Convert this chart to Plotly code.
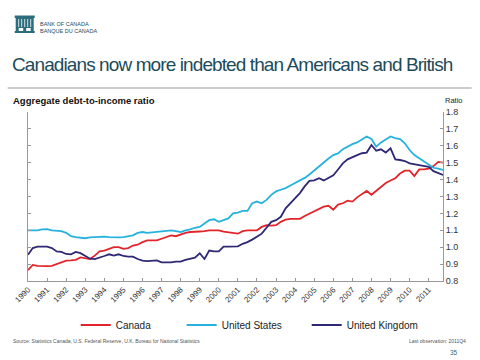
import plotly.graph_objects as go

years = [str(y) for y in range(1990, 2012)]
quarters = [f"{y}Q{q}" for y in range(1990, 2012) for q in range(1, 5)]

canada = [0.865, 0.895, 0.89, 0.888, 0.888, 0.89, 0.90, 0.91, 0.92, 0.922,
          0.925, 0.94, 0.935, 0.93, 0.95, 0.975, 0.98, 0.99, 1.0, 1.0,
          0.99, 0.995, 1.01, 1.015, 1.03, 1.04, 1.04, 1.04, 1.05, 1.06,
          1.07, 1.065, 1.075, 1.085, 1.09, 1.09, 1.093, 1.095, 1.10, 1.10,
          1.10, 1.092, 1.088, 1.088, 1.08, 1.095, 1.10, 1.10, 1.10, 1.12,
          1.13, 1.128, 1.13, 1.15, 1.163, 1.168, 1.17, 1.168, 1.185, 1.20,
          1.215, 1.228, 1.24, 1.245, 1.222, 1.252, 1.26, 1.275, 1.27, 1.295,
          1.315, 1.333, 1.31, 1.335, 1.36, 1.38, 1.395, 1.408, 1.437, 1.453,
          1.453, 1.421, 1.46, 1.46, 1.465, 1.48, 1.505, 1.50]

united_states = [1.10, 1.10, 1.10, 1.105, 1.107, 1.10, 1.097, 1.095, 1.085, 1.065,
                 1.06, 1.055, 1.053, 1.058, 1.06, 1.058, 1.062, 1.06, 1.058, 1.058,
                 1.06, 1.063, 1.07, 1.085, 1.09, 1.085, 1.088, 1.09, 1.095, 1.10,
                 1.10, 1.095, 1.09, 1.10, 1.105, 1.115, 1.12, 1.14, 1.16, 1.165,
                 1.15, 1.16, 1.17, 1.20, 1.205, 1.215, 1.215, 1.26, 1.27, 1.26,
                 1.28, 1.31, 1.33, 1.34, 1.35, 1.365, 1.38, 1.393, 1.41, 1.43,
                 1.455, 1.48, 1.50, 1.525, 1.545, 1.555, 1.58, 1.595, 1.61, 1.62,
                 1.64, 1.655, 1.64, 1.595, 1.62, 1.64, 1.655, 1.645, 1.64, 1.615,
                 1.575, 1.545, 1.525, 1.51, 1.485, 1.47, 1.465, 1.457]

united_kingdom = [0.955, 0.995, 1.003, 1.003, 1.003, 0.995, 0.975, 0.972, 0.96, 0.958,
                  0.972, 0.965, 0.948, 0.932, 0.93, 0.937, 0.948, 0.958, 0.95, 0.958,
                  0.948, 0.944, 0.944, 0.93, 0.92, 0.918, 0.918, 0.922, 0.91, 0.91,
                  0.91, 0.915, 0.915, 0.925, 0.932, 0.938, 0.964, 0.93, 0.98, 0.975,
                  0.975, 1.003, 1.003, 1.003, 1.005, 1.02, 1.03, 1.045, 1.06, 1.08,
                  1.115, 1.15, 1.16, 1.18, 1.23, 1.26, 1.29, 1.32, 1.36, 1.392,
                  1.395, 1.408, 1.395, 1.41, 1.425, 1.46, 1.496, 1.52, 1.535, 1.545,
                  1.556, 1.56, 1.605, 1.571, 1.579, 1.56, 1.585, 1.52, 1.516, 1.51,
                  1.496, 1.49, 1.485, 1.48, 1.475, 1.45, 1.44, 1.427]

series_names = ["Canada", "United States", "United Kingdom"]
series_colors = ["#e3242b", "#27b2dd", "#2f2874"]

W, H = 480, 360
L, R, T, B = 28.3, 443.3, 112.0, 281.0


def px(x):
    return (x - L) / (R - L)


def py(y):
    return (B - y) / (B - T)


idx = list(range(len(quarters)))
fig = go.Figure()
for i, (name, vals, col) in enumerate(zip(series_names,
                                          [canada, united_states, united_kingdom],
                                          series_colors)):
    fig.add_trace(go.Scatter(
        x=idx, y=vals, mode="lines", name=name,
        line=dict(color=col, width=1.8),
        customdata=quarters,
        hovertemplate="%{customdata}: %{y:.2f}<extra>" + name + "</extra>",
        legend="legend" if i == 0 else f"legend{i+1}",
    ))

font_main = "Liberation Sans, Arial, sans-serif"
teal = "#1c4b5b"

legend_common = dict(orientation="h", xanchor="left", yanchor="middle",
                     bgcolor="rgba(0,0,0,0)", borderwidth=0,
                     font=dict(family=font_main, size=10, color="#222"))
legend_x = [76, 182, 307]
legend_y = 325

fig.update_layout(
    width=W, height=H,
    margin=dict(l=28, r=37, t=112, b=79),
    paper_bgcolor="white", plot_bgcolor="white",
    font=dict(family=font_main, color="#333"),
    showlegend=True,
    legend=dict(x=px(legend_x[0]), y=py(legend_y), **legend_common),
    legend2=dict(x=px(legend_x[1]), y=py(legend_y), **legend_common),
    legend3=dict(x=px(legend_x[2]), y=py(legend_y), **legend_common),
    xaxis=dict(
        range=[0, len(quarters) - 1],
        tickvals=list(range(0, len(quarters), 4)),
        ticktext=years,
        tickangle=-45,
        ticks="inside", ticklen=3, tickcolor="#999",
        showline=True, linecolor="#999", linewidth=1,
        showgrid=False, zeroline=False,
        tickfont=dict(size=8, color="#333"),
    ),
    yaxis=dict(
        side="right",
        range=[0.8, 1.8], dtick=0.1, tick0=0.8, tickformat=".1f",
        ticks="inside", ticklen=3, tickcolor="#999",
        showline=True, linecolor="#999", linewidth=1, mirror="ticks",
        showgrid=False, zeroline=False,
        tickfont=dict(size=9, color="#333"),
    ),
)

annotations = [
    dict(x=px(10), y=py(64), text='<span style="letter-spacing:-0.9px">Canadians now more indebted than Americans and British</span>',
         font=dict(family="Liberation Sans Narrow, Arial Narrow, Liberation Sans, Arial", size=19, color=teal),
         xanchor="left", yanchor="middle"),
    dict(x=px(38), y=py(23.5), text="BANK OF CANADA", font=dict(family=font_main, size=5.5, color=teal),
         xanchor="left", yanchor="middle"),
    dict(x=px(38), y=py(30.5), text="BANQUE DU CANADA", font=dict(family=font_main, size=5.5, color=teal),
         xanchor="left", yanchor="middle"),
    dict(x=px(11), y=py(100), text="<b>Aggregate debt-to-income ratio</b>",
         font=dict(family=font_main, size=9.5, color="#111"), xanchor="left", yanchor="middle"),
    dict(x=px(443), y=py(100), text="Ratio",
         font=dict(family=font_main, size=7.5, color="#222"), xanchor="left", yanchor="middle"),
    dict(x=px(11), y=py(341), text="Source: Statistics Canada, U.S. Federal Reserve, U.K. Bureau for National Statistics",
         font=dict(family=font_main, size=5, color="#555"), xanchor="left", yanchor="middle"),
    dict(x=px(468), y=py(341), text="Last observation: 2011Q4",
         font=dict(family=font_main, size=5, color="#555"), xanchor="right", yanchor="middle"),
    dict(x=px(460), y=py(352), text="35",
         font=dict(family=font_main, size=6.5, color="#2a6f86"), xanchor="right", yanchor="middle"),
]
for a in annotations:
    a.update(xref="paper", yref="paper", showarrow=False)
fig.update_layout(annotations=annotations)

# decorative header: logo and separator line
shapes = [
    dict(type="rect", x0=px(16), x1=px(34), y0=py(18), y1=py(28), fillcolor="#2b6d7c", line=dict(width=0)),
    dict(type="rect", x0=px(15), x1=px(35), y0=py(15.5), y1=py(18), fillcolor="#2b6d7c", line=dict(width=0)),
    dict(type="rect", x0=px(15), x1=px(35), y0=py(31), y1=py(33), fillcolor="#2b6d7c", line=dict(width=0)),
    dict(type="rect", x0=px(16), x1=px(19), y0=py(28), y1=py(31), fillcolor="#2b6d7c", line=dict(width=0)),
    dict(type="rect", x0=px(23.5), x1=px(26.5), y0=py(28), y1=py(31), fillcolor="#2b6d7c", line=dict(width=0)),
    dict(type="rect", x0=px(31), x1=px(34), y0=py(28), y1=py(31), fillcolor="#2b6d7c", line=dict(width=0)),
    dict(type="line", x0=px(8), x1=px(472), y0=py(88), y1=py(88), line=dict(color="#bbbbbb", width=1.5)),
]
for xx in [19, 22, 25, 28, 31]:
    shapes.append(dict(type="line", x0=px(xx), x1=px(xx), y0=py(19), y1=py(27), line=dict(color="white", width=0.8)))
for s in shapes:
    s.update(xref="paper", yref="paper", layer="above")
fig.update_layout(shapes=shapes)

fig.write_html("out.html", config={"displayModeBar": False},
               post_script="document.body.style.margin='0';document.body.style.padding='0';")
